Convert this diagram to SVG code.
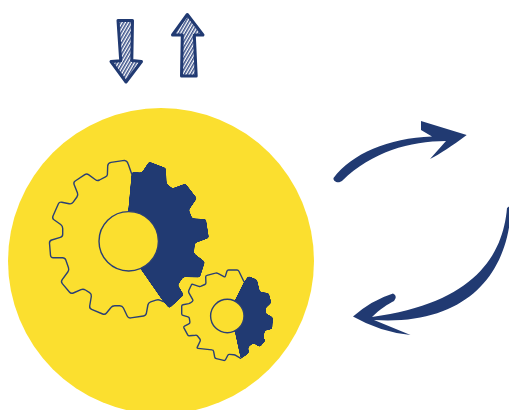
<svg xmlns="http://www.w3.org/2000/svg" width="509" height="410" viewBox="0 0 509 410">
<style>
.navy{fill:#213a72}
.line{fill:none;stroke:#2a3f75;stroke-width:1.4;stroke-linejoin:round;stroke-linecap:round}
.hollow{fill:#fbdf2f;stroke:#2a3f75;stroke-width:1.4}
.hatch{fill:url(#h);stroke:#213a72;stroke-width:3;stroke-linejoin:round}
.soft{filter:url(#soft)}
</style>
<defs>
<pattern id="h" width="2.8" height="2.8" patternUnits="userSpaceOnUse" patternTransform="rotate(30)">
<rect width="2.8" height="2.8" fill="#fff"/><rect width="1.5" height="2.8" fill="#3a5088"/>
</pattern>
<filter id="soft" x="-5%" y="-5%" width="110%" height="110%" color-interpolation-filters="sRGB">
<feGaussianBlur stdDeviation="1.3"/>
<feComponentTransfer><feFuncA type="linear" slope="8" intercept="-3.5"/></feComponentTransfer>
</filter>
</defs>
<rect width="509" height="410" fill="#fff"/>
<circle id="disc" cx="161" cy="261" r="153" fill="#fbdf2f"/>
<g id="gear-large">
<path class="navy soft" d="M131.7 172L141.7 172.500L149 161.500L166 168L166.700 183.300L172.300 188.300L185.500 183.500L197 198.300L189 210L192.300 218.300L206 219L209 238L195 243.300L194 253.300L205 261.700L200 277.500L183.300 277.300L178 285L184 295L169.300 308.500L163.300 301.700L140 268.300L128 212Z"/>
<path class="line" d="M131.7 174L128.2 164Q127.3 160.800 124.500 160.400L111 162.400Q107.800 163 107.700 166L107.400 174.500Q107.300 176 105.500 176.900L99.500 180Q97.300 181 95.500 179.700L88.500 174.600Q86.700 173.300 84.800 174.600L75.200 181Q73.300 182.300 74.100 184.400L77.400 192.800Q78.300 195 76.900 197L73.200 202.200Q71.700 204.300 69.200 203.800L61.800 202.200Q59.300 201.700 58.300 204L53 216Q52 218.300 54 219.800L60.700 224.500Q62.700 226 62.700 228.500L62.700 234.200Q62.700 236.700 60.300 237.400L51.700 240Q49.300 240.700 49.500 243.200L50.500 255.200Q50.700 257.700 53.200 257.700L62.500 257.700Q65 257.700 65.800 260L68.500 267.700Q69.300 270 67.800 272L62.200 279.700Q60.700 281.700 62.300 283.600L69.400 292Q71 294 73.300 293L81 289.700Q83.300 288.700 85.400 290L89.600 292.700Q91.700 294 91.300 296.500L89.700 306Q89.300 308.300 91.600 309.300L102.700 314Q105 315 106.500 313L110.800 307.700Q112.300 305.700 114.800 305.700L119.800 305.700Q122.300 305.700 123.400 308L127.200 316Q128.300 318.300 130.800 317.900L143.500 316Q146 315.700 146.400 313.200L147.900 305Q148.300 302.700 150.600 301.900L156 300.100Q158.300 299.300 160.500 300.300L163.300 301.700"/>
<circle class="hollow" cx="128.700" cy="241.300" r="29.700"/>
</g>
<g id="gear-small">
<path class="navy soft" d="M244 281.700L248.300 276L257 279.500L260 291.700L268.800 293L271.500 302.700L265.700 308.300L265.700 313.300L273 317.300L272.300 329L265 330.700L263.300 338.300L266 340L260 347.300L253.300 343.300L248.300 347.300L249 353.300L240.700 359L235 332.700L227 316Z"/>
<path class="line" d="M244 281.700L238.900 271.200Q238.300 270 237 270L228.600 270Q227.300 270 226.900 271.200L225.400 276.100Q225 277.300 223.900 276.700L217.900 273.400Q216.700 272.700 215.400 273.100L207 275.400Q205.700 275.700 205.700 277L205.900 282.700Q206 284 204.800 284.500L201.200 286.200Q200 286.700 198.800 286.300L192.900 284.400Q191.700 284 191.200 285.200L188.800 290.500Q188.300 291.700 188.900 292.800L192.700 299.600Q193.300 300.700 192.300 301.500L191 302.500Q190 303.300 188.700 303.600L183 304.700Q181.700 305 181.700 306.300L181.700 313.700Q181.700 315 183 315.400L188 316.900Q189.300 317.300 189.400 318.600L189.900 322Q190 323.300 188.800 323.900L184.500 326.100Q183.300 326.700 183.900 327.900L187.700 334.900Q188.300 336 189.600 335.800L195.400 335.200Q196.700 335 197.500 336L199.900 339Q200.700 340 200.100 341.200L197.300 347.100Q196.700 348.300 198 348.400L212 349.900Q213.300 350 213.600 351.300L214.700 357Q215 358.300 216.300 358.600L223.700 360.400Q225 360.700 225.600 359.500L227.700 355.500Q228.300 354.300 229.600 354.400L233.700 354.800Q235 355 236.100 355.600L240.700 358.300"/>
<circle class="hollow" cx="227.300" cy="316" r="16.700"/>
</g>
<g id="arrow-down"><path class="hatch" d="M118 20.500L132.500 20.500L131.800 60.500L141.500 61.500L126 82L111 61.500L120.700 60.700Z"/></g>
<g id="arrow-up"><path class="hatch" d="M187.300 14.500L203 35L194.300 35L196.200 76L181.500 76L182.300 35L172.500 35Z"/></g>
<g id="connectors">
<path id="cycle-top" class="navy" d="M333.500 178C352 154 388 138 432 136.600L421 130L421 121L466.700 135C452 146 440 154 430 159L446 141C410 141 372 152 342.500 180.500C339 184 333 182 333.500 178Z"/>
<path id="cycle-bottom" class="navy" d="M507 208C503 255 475 303 372 317C380 309 388 304 394 301Q398 296 393 293.500Q372 300 353 316.500Q380 332 410.500 335L374 320C470 326 510 270 511 205Z"/>
</g>
</svg>
